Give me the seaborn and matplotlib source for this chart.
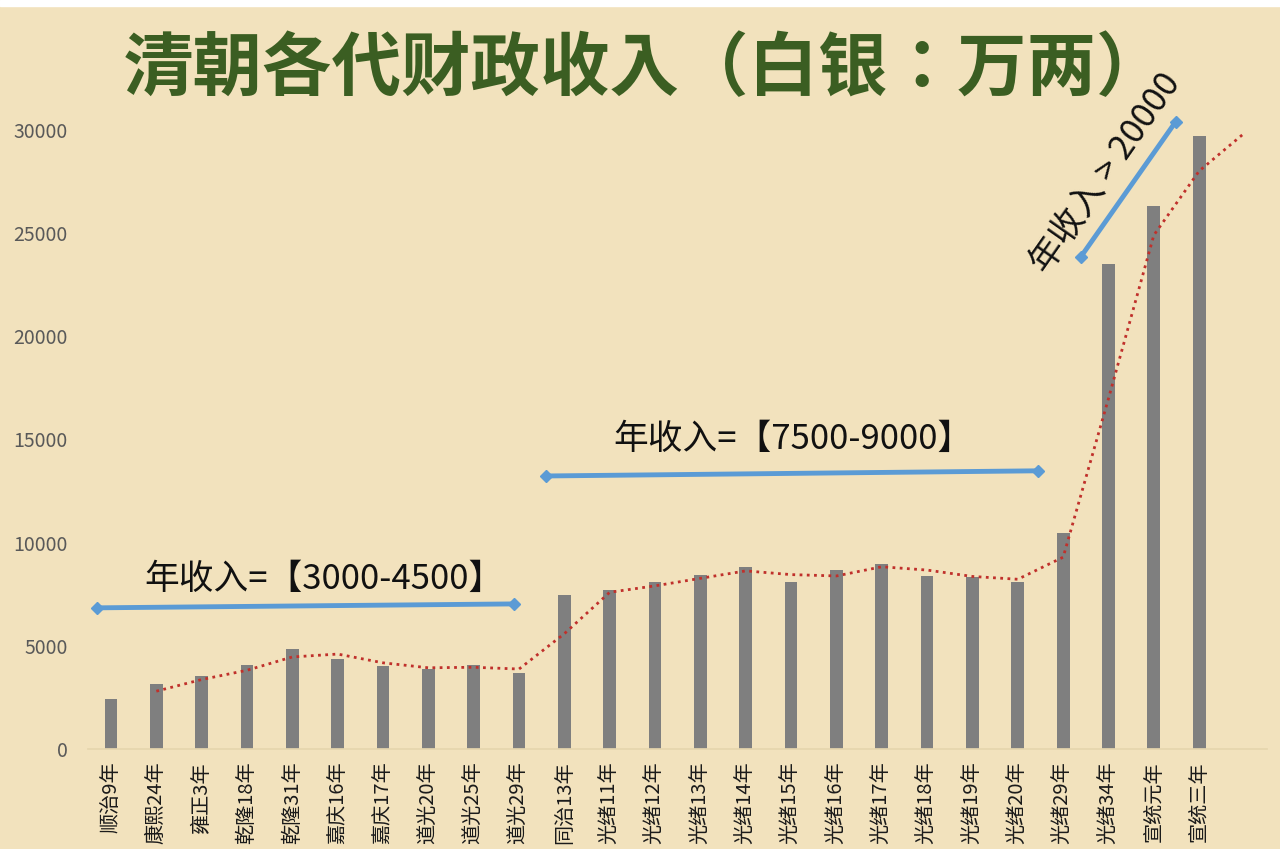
import numpy as np
import pandas as pd
import seaborn as sns
import matplotlib.pyplot as plt

# reign years and revenue (10k taels of silver)
years = ["顺治9年", "康熙24年", "雍正3年", "乾隆18年", "乾隆31年", "嘉庆16年", "嘉庆17年",
         "道光20年", "道光25年", "道光29年", "同治13年", "光绪11年", "光绪12年", "光绪13年",
         "光绪14年", "光绪15年", "光绪16年", "光绪17年", "光绪18年", "光绪19年", "光绪20年",
         "光绪29年", "光绪34年", "宣统元年", "宣统三年"]
revenue = [2430, 3170, 3560, 4070, 4850, 4350, 4000, 3870, 4050, 3700, 7480, 7710, 8100,
           8440, 8820, 8080, 8690, 8970, 8370, 8350, 8100, 10490, 23480, 26320, 29700]
trend_forecast = 29850   # trend line runs one slot past the last bar

band_labels = ["年收入=【3000-4500】", "年收入=【7500-9000】", "年收入 > 20000"]

bg = "#f2e2bd"
sns.set_theme(style="white")
plt.rcParams['font.family'] = ['Noto Sans CJK SC', 'DejaVu Sans']

df = pd.DataFrame({"year": years, "revenue": revenue})
trend = df["revenue"].rolling(2).mean().tolist() + [trend_forecast]

fig = plt.figure(figsize=(12.8, 8.49), dpi=100, facecolor=bg)
ax = fig.add_axes([0.069, 0.1178, 0.921, 0.7292])
ax.set_facecolor(bg)

sns.barplot(data=df, x="year", y="revenue", color="#7f7f7f", width=0.28,
            saturation=1, edgecolor="none", linewidth=0, ax=ax)
xs = np.arange(len(trend))
ax.plot(xs, trend, color="#c0302b", linestyle=(0, (1, 1.6)), linewidth=2.0, zorder=3)

ax.set_xlim(-0.5, 25.5)
ax.set_ylim(0, 30000)
ax.set_yticks(range(0, 30001, 5000))
ax.set_xlabel("")
ax.set_ylabel("")
for s in ["top", "right", "left"]:
    ax.spines[s].set_visible(False)
ax.spines["bottom"].set_color("#e6d6ae")
ax.tick_params(axis="y", length=0, pad=15, labelsize=14, labelcolor="#595959")
ax.tick_params(axis="x", length=0, pad=9, labelsize=14.5, labelcolor="#1a1a1a")
plt.setp(ax.get_xticklabels(), rotation=90)

# band markers
blue = "#5b9bd5"
ax.plot([-0.31, 8.88], [6840, 7030], color=blue, lw=3.5, marker="D", ms=6, clip_on=False)
ax.plot([9.6, 20.44], [13230, 13480], color=blue, lw=3.5, marker="D", ms=6, clip_on=False)
ax.plot([21.39, 23.48], [23850, 30390], color=blue, lw=3.5, marker="D", ms=6, clip_on=False)
ax.text(4.7, 8200, band_labels[0], fontsize=25, ha="center", va="center", color="#111111")
ax.text(15.05, 14980, band_labels[1], fontsize=25, ha="center", va="center", color="#111111")
ax.text(21.95, 27900, band_labels[2], fontsize=25, ha="center", va="center", color="#111111",
        rotation=55, rotation_mode="anchor")

fig.text(0.504, 0.918, "清朝各代财政收入（白银：万两）", fontsize=50, fontweight="heavy",
         family=['Noto Sans CJK TC', 'DejaVu Sans'],
         color="#3b5e22", ha="center", va="center")
fig.patches.append(plt.Rectangle((0, 0.9935), 1, 0.0065, transform=fig.transFigure,
                                 color="white", zorder=0))

fig.savefig("out.png", dpi=100, facecolor=bg)
